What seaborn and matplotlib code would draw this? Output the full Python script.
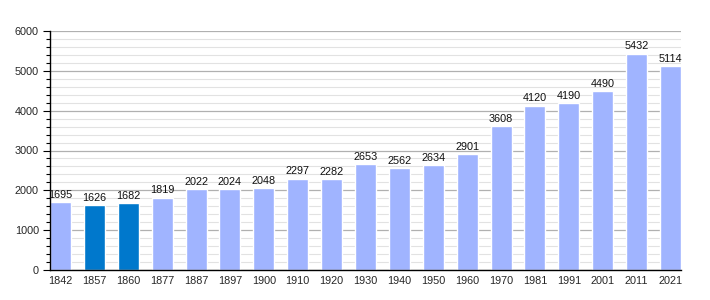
import matplotlib
matplotlib.use("Agg")
import matplotlib.pyplot as plt
import seaborn as sns
import pandas as pd
from matplotlib.ticker import MultipleLocator

years = ["1842", "1857", "1860", "1877", "1887", "1897", "1900", "1910", "1920", "1930",
         "1940", "1950", "1960", "1970", "1981", "1991", "2001", "2011", "2021"]
population = [1695, 1626, 1682, 1819, 2022, 2024, 2048, 2297, 2282, 2653,
              2562, 2634, 2901, 3608, 4120, 4190, 4490, 5432, 5114]
highlight = ["1857", "1860"]

LIGHT = "#a0b4ff"
DARK = "#0078cc"

df = pd.DataFrame({"year": years, "pop": population})
df["kind"] = ["dark" if y in highlight else "light" for y in years]

sns.set_style("white")
plt.rcParams["font.family"] = ["Liberation Sans", "DejaVu Sans"]

fig = plt.figure(figsize=(7.1, 3.0), dpi=100)
ax = fig.add_axes([50 / 710, 30 / 300, 631 / 710, 239 / 300])

sns.barplot(data=df, x="year", y="pop", hue="kind",
            palette={"light": LIGHT, "dark": DARK}, dodge=False,
            width=0.62, legend=False, ax=ax, saturation=1)

for p, v in zip(range(len(years)), population):
    ax.text(p, v + 60, str(v), ha="center", va="bottom", fontsize=7.8, color="#111111")

ax.set_xlim(-0.31, len(years) - 1 + 0.31)
ax.set_ylim(0, 6000)
ax.yaxis.set_major_locator(MultipleLocator(1000))
ax.yaxis.set_minor_locator(MultipleLocator(200))
ax.grid(axis="y", which="major", color="#b0b0b0", linewidth=0.9, zorder=0)
ax.grid(axis="y", which="minor", color="#e2e2e2", linewidth=0.8, zorder=0)
ax.set_axisbelow(True)

for s in ["top", "right"]:
    ax.spines[s].set_visible(False)
ax.spines["left"].set_color("black")
ax.spines["bottom"].set_color("black")
ax.spines["left"].set_linewidth(1.0)
ax.spines["bottom"].set_linewidth(1.0)

ax.tick_params(axis="y", which="major", length=5, width=0.8, color="black",
               labelsize=7.8, pad=3, left=True)
ax.tick_params(axis="y", which="minor", length=3, width=0.8, color="black", left=True)
ax.tick_params(axis="x", length=0, labelsize=7.8, pad=4)
ax.set_xlabel("")
ax.set_ylabel("")

fig.savefig("out.png", dpi=100)
